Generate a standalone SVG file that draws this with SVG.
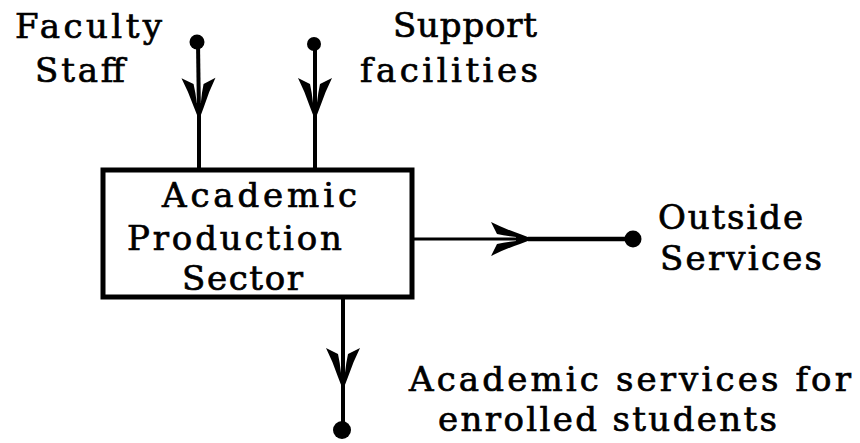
<svg xmlns="http://www.w3.org/2000/svg" width="860" height="443" viewBox="0 0 860 443">
<style>
.t{font-family:"DejaVu Serif","Liberation Serif",serif;font-size:34px;fill:#000;stroke:#000;stroke-width:0.7}
.ln{fill:none;stroke:#000;stroke-width:4}
.box{fill:#fff;stroke:#000;stroke-width:5}
.arr{marker-end:url(#chev)}
</style>
<defs>
<marker id="chev" markerUnits="userSpaceOnUse" orient="auto" overflow="visible" refX="0" refY="0" markerWidth="1" markerHeight="1">
<path d="M3,0 L-10,-5 Q-25,-10 -39,-17 L-33,-5 Q-24,-3 -14,-2 L-14,2 Q-24,3 -33,5 L-39,17 Q-25,10 -10,5 Z" fill="#000"/>
</marker>
</defs>
<g id="connectors">
<circle cx="197" cy="42" r="7.5" fill="#000"/>
<path class="ln arr" d="M198,42 L199,117"/>
<path class="ln" d="M199,117 L199,170"/>
<circle cx="314" cy="44" r="7" fill="#000"/>
<path class="ln arr" d="M315,44 L315,117"/>
<path class="ln" d="M315,117 L315,170"/>
<path class="arr" d="M412,239 L530,239" fill="none" stroke="#000" stroke-width="3"/>
<path d="M528,239 L633,239" fill="none" stroke="#000" stroke-width="4.5"/>
<circle cx="633" cy="239" r="8.5" fill="#000"/>
<path class="ln arr" d="M343,297 L343,387"/>
<path class="ln" d="M343,387 L343,430"/>
<circle cx="342" cy="430" r="9" fill="#000"/>
</g>
<g id="faculty">
<text class="t" x="15" y="38" textLength="147" lengthAdjust="spacing">Faculty</text>
<text class="t" x="35" y="82" textLength="90" lengthAdjust="spacing">Staff</text>
</g>
<g id="support">
<text class="t" x="393" y="37" textLength="144" lengthAdjust="spacing">Support</text>
<text class="t" x="360" y="82" textLength="178" lengthAdjust="spacing">facilities</text>
</g>
<g id="sector">
<rect class="box" x="103" y="170" width="309" height="127"/>
<text class="t" x="162" y="207" textLength="195" lengthAdjust="spacing">Academic</text>
<text class="t" x="127" y="250" textLength="215" lengthAdjust="spacing">Production</text>
<text class="t" x="182" y="290" textLength="121" lengthAdjust="spacing">Sector</text>
</g>
<g id="outside">
<text class="t" x="658" y="229" textLength="145" lengthAdjust="spacing">Outside</text>
<text class="t" x="660" y="270" textLength="162" lengthAdjust="spacing">Services</text>
</g>
<g id="enrolled">
<text class="t" x="409" y="391" textLength="442" lengthAdjust="spacing">Academic services for</text>
<text class="t" x="438" y="431" textLength="339" lengthAdjust="spacing">enrolled students</text>
</g>
</svg>
